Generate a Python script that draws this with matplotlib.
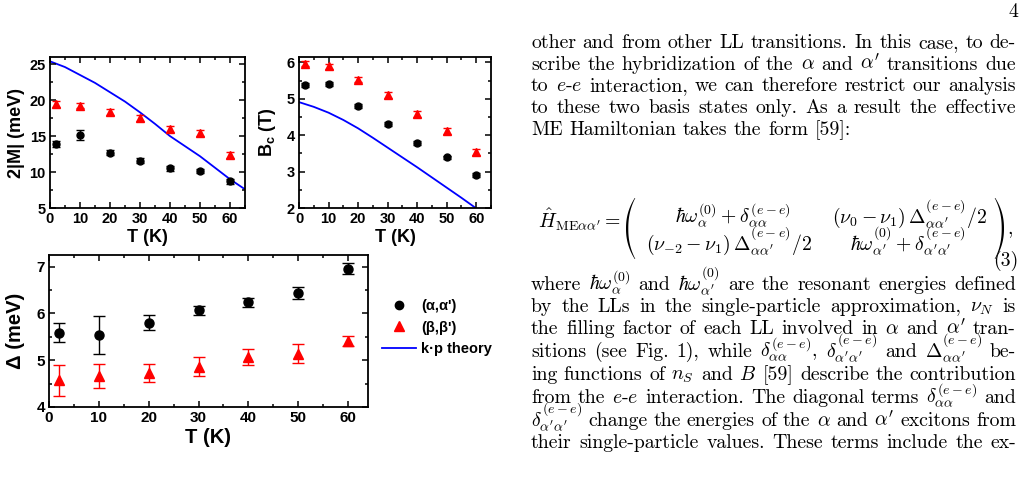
import numpy as np
import matplotlib
matplotlib.use("Agg")
import matplotlib.pyplot as plt
from matplotlib.lines import Line2D
from matplotlib.patches import Polygon
from matplotlib.ticker import MultipleLocator

# ---------------- data ----------------
T = [2, 10, 20, 30, 40, 50, 60]

M_alpha = [13.9, 15.1, 12.7, 11.6, 10.5, 10.1, 8.7]
M_alpha_err = [0.35, 0.7, 0.35, 0.3, 0.3, 0.3, 0.4]
M_beta = [19.5, 19.25, 18.3, 17.5, 16.0, 15.4, 12.4]
M_beta_err = [0.4, 0.4, 0.4, 0.4, 0.4, 0.4, 0.4]
T_theory_M = [0, 5, 10, 15, 20, 25, 30, 35, 40, 45, 50, 55, 60, 65]
M_theory = [25.4, 24.6, 23.5, 22.4, 21.1, 19.8, 18.3, 16.7, 15.0, 13.6, 12.2, 10.6, 9.0, 7.6]

Bc_alpha = [5.38, 5.40, 4.81, 4.31, 3.79, 3.39, 2.91]
Bc_alpha_err = [0.06, 0.06, 0.06, 0.05, 0.05, 0.05, 0.06]
Bc_beta = [5.97, 5.89, 5.53, 5.10, 4.59, 4.12, 3.55]
Bc_beta_err = [0.08, 0.08, 0.08, 0.08, 0.08, 0.08, 0.08]
T_theory_B = [0, 5, 10, 15, 20, 25, 30, 35, 40, 45, 50, 55, 60]
Bc_theory = [4.91, 4.78, 4.62, 4.42, 4.19, 3.93, 3.66, 3.39, 3.12, 2.84, 2.56, 2.28, 1.99]

D_alpha = [5.59, 5.54, 5.80, 6.07, 6.24, 6.44, 6.96]
D_alpha_err = [0.2, 0.4, 0.16, 0.1, 0.1, 0.13, 0.12]
D_beta = [4.57, 4.66, 4.73, 4.86, 5.07, 5.14, 5.41]
D_beta_err = [0.33, 0.26, 0.19, 0.2, 0.17, 0.2, 0.1]

legend_labels = ["(α,α')", "(β,β')", "k·p theory"]

# ---------------- style ----------------
plt.rcParams['font.family'] = ['Liberation Sans', 'DejaVu Sans']
plt.rcParams['mathtext.fontset'] = 'cm'
plt.rcParams['axes.linewidth'] = 1.3

W, H = 1027, 479
fig = plt.figure(figsize=(W / 100, H / 100), dpi=100)


def px_axes(l, r, t, b):
    return fig.add_axes([l / W, 1 - b / H, (r - l) / W, (b - t) / H])


def style(ax, ymaj, ymin, fs):
    ax.xaxis.set_major_locator(MultipleLocator(10))
    ax.xaxis.set_minor_locator(MultipleLocator(5))
    ax.yaxis.set_major_locator(MultipleLocator(ymaj))
    ax.yaxis.set_minor_locator(MultipleLocator(ymin))
    ax.tick_params(which='both', direction='in', top=True, right=True, width=1.1)
    ax.tick_params(which='major', length=4, labelsize=fs, pad=3)
    ax.tick_params(which='minor', length=2.5)
    for lab in ax.get_xticklabels() + ax.get_yticklabels():
        lab.set_fontweight('bold')


BLUE = '#0000ff'
RED = '#ff0000'

# panel a
axa = px_axes(50, 245, 57, 208)
axa.plot(T_theory_M, M_theory, color=BLUE, lw=1.3, zorder=1)
axa.errorbar(T, M_beta, yerr=M_beta_err, fmt='^', color=RED, ms=6, capsize=3, elinewidth=1, zorder=3)
axa.errorbar(T, M_alpha, yerr=M_alpha_err, fmt='o', color='black', ms=5, capsize=3, elinewidth=1, zorder=3)
axa.set_xlim(0, 65)
axa.set_ylim(5, 26)
style(axa, 5, 2.5, 10.5)
axa.set_xlabel('T (K)', fontsize=13, fontweight='bold', labelpad=2)
axa.set_ylabel('2|M| (meV)', fontsize=13, fontweight='bold', labelpad=3)

# panel b
axb = px_axes(299, 491, 57, 208)
axb.plot(T_theory_B, Bc_theory, color=BLUE, lw=1.3, zorder=1)
axb.errorbar(T, Bc_beta, yerr=Bc_beta_err, fmt='^', color=RED, ms=6, capsize=3, elinewidth=1, zorder=3)
axb.errorbar(T, Bc_alpha, yerr=Bc_alpha_err, fmt='o', color='black', ms=5, capsize=3, elinewidth=1, zorder=3)
axb.set_xlim(0, 65)
axb.set_ylim(2, 6.15)
style(axb, 1, 0.5, 10.5)
axb.set_xlabel('T (K)', fontsize=13, fontweight='bold', labelpad=2)
plt.rcParams['mathtext.rm'] = 'Liberation Sans:bold'
plt.rcParams['mathtext.bf'] = 'Liberation Sans:bold'
plt.rcParams['mathtext.it'] = 'Liberation Sans:bold'
axb.set_ylabel(r'B$_\mathrm{c}$ (T)', fontsize=13, fontweight='bold', labelpad=6,
               math_fontfamily='custom')

# panel c
axc = px_axes(49, 368, 255, 407)
axc.errorbar(T, D_alpha, yerr=D_alpha_err, fmt='o', color='black', ms=6.5, capsize=4.5, elinewidth=1, zorder=3)
axc.errorbar(T, D_beta, yerr=D_beta_err, fmt='^', color=RED, ms=7.5, capsize=4.5, elinewidth=1, zorder=3)
axc.set_xlim(0, 64)
axc.set_ylim(4, 7.25)
style(axc, 1, 0.5, 11)
axc.set_xlabel('T (K)', fontsize=14.5, fontweight='bold', labelpad=2)
axc.set_ylabel('Δ (meV)', fontsize=14.5, fontweight='bold', labelpad=8)

handles = [Line2D([], [], marker='o', color='black', ls='none', ms=6),
           Line2D([], [], marker='^', color=RED, ls='none', ms=7),
           Line2D([], [], color=BLUE, lw=1.3)]
fig.legend(handles, legend_labels, loc='upper left', bbox_to_anchor=(375 / W, 1 - 292 / H),
           frameon=False, borderpad=0, handlelength=2.3, handletextpad=0.35,
           labelspacing=0.5, prop={'family': 'Liberation Sans', 'weight': 'bold', 'size': 10.5})

# ---------------- page text ----------------
renderer = fig.canvas.get_renderer()
X0, X1 = 531, 1016

probe_line = "other and from other LL transitions. In this case, to de-"
probe = fig.text(0, 0, probe_line, family='cmr10', fontsize=10)
probe_w = probe.get_window_extent(renderer).width
probe.remove()
FS = 10 * (X1 - X0) / probe_w
TXT = dict(family='cmr10', fontsize=FS, fontweight='normal', math_fontfamily='cm')


def fpos(x, y):
    return (x / W, 1 - y / H)


def put_line(words, y, justify=True):
    objs = [fig.text(0, 0, w, va='baseline', ha='left', **TXT) for w in words]
    widths = [o.get_window_extent(renderer).width for o in objs]
    if justify and len(words) > 1:
        gap = (X1 - X0 - sum(widths)) / (len(words) - 1)
    else:
        gap = 0.333 * FS * 100 / 72
    x = X0
    for o, w in zip(objs, widths):
        o.set_position(fpos(x, y))
        x += w + gap


para1 = [
    "other and from other LL transitions. In this case, to de-",
    r"scribe the hybridization of the $\alpha$ and $\alpha'$ transitions due",
    r"to $e$-$e$ interaction, we can therefore restrict our analysis",
    "to these two basis states only. As a result the effective",
    "ME Hamiltonian takes the form [59]:",
]
for i, line in enumerate(para1):
    put_line(line.split(' '), 48 + i * 21.7, justify=(i < len(para1) - 1))

para2 = [
    r"where $\hbar\omega_\alpha^{(0)}$ and $\hbar\omega_{\alpha'}^{(0)}$ are the resonant energies defined",
    r"by the LLs in the single-particle approximation, $\nu_N$ is",
    r"the filling factor of each LL involved in $\alpha$ and $\alpha'$ tran-",
    r"sitions (see Fig. 1), while $\delta_{\alpha\alpha}^{(e-e)}$, $\delta_{\alpha'\alpha'}^{(e-e)}$ and $\Delta_{\alpha\alpha'}^{(e-e)}$ be-",
    r"ing functions of $n_S$ and $B$ [59] describe the contribution",
    r"from the $e$-$e$ interaction. The diagonal terms $\delta_{\alpha\alpha}^{(e-e)}$ and",
    r"$\delta_{\alpha'\alpha'}^{(e-e)}$ change the energies of the $\alpha$ and $\alpha'$ excitons from",
    "their single-particle values. These terms include the ex-",
]
ys2 = [290, 312, 334, 357, 380, 403, 426, 448]
for line, y in zip(para2, ys2):
    put_line(line.split(' '), y)

# displayed equation (3)
fig.text(*fpos(538, 228), r"$\hat{H}_{\mathrm{ME}\alpha\alpha'}=$", va='baseline', ha='left', **TXT)
cells = [
    (733, 223, r"$\hbar\omega_\alpha^{(0)}+\delta_{\alpha\alpha}^{(e-e)}$"),
    (910, 223, r"$(\nu_0-\nu_1)\,\Delta_{\alpha\alpha'}^{(e-e)}/2$"),
    (729, 250, r"$(\nu_{-2}-\nu_1)\,\Delta_{\alpha\alpha'}^{(e-e)}/2$"),
    (908, 250, r"$\hbar\omega_{\alpha'}^{(0)}+\delta_{\alpha'\alpha'}^{(e-e)}$"),
]
for cx, cy, s in cells:
    fig.text(*fpos(cx, cy), s, va='baseline', ha='center', **TXT)


def big_paren(xl, xr, yt, yb, left=True, thick=2.3, end=0.6):
    t = np.linspace(-1, 1, 60)
    y = (yt + yb) / 2 + t * (yb - yt) / 2
    span = xr - xl - thick
    outer = xl + span * np.abs(t) ** 2.2
    inner = outer + end + (thick - end) * (1 - t ** 2)
    if not left:
        outer, inner = xl + xr - outer, xl + xr - inner
    pts = np.concatenate([np.column_stack([outer, y]), np.column_stack([inner, y])[::-1]])
    pts = np.column_stack([pts[:, 0] / W, 1 - pts[:, 1] / H])
    fig.patches.append(Polygon(pts, closed=True, facecolor='black', edgecolor='none',
                               transform=fig.transFigure, figure=fig))


big_paren(626, 637, 198, 259, left=True)
big_paren(993, 1004, 198, 259, left=False)
fig.text(*fpos(1007, 234), ",", va='baseline', ha='left', **TXT)
fig.text(*fpos(1018, 266), "(3)", va='baseline', ha='right', **TXT)
fig.text(*fpos(1018, 17), "4", va='baseline', ha='right', **TXT)

fig.savefig('out.png', dpi=100)
